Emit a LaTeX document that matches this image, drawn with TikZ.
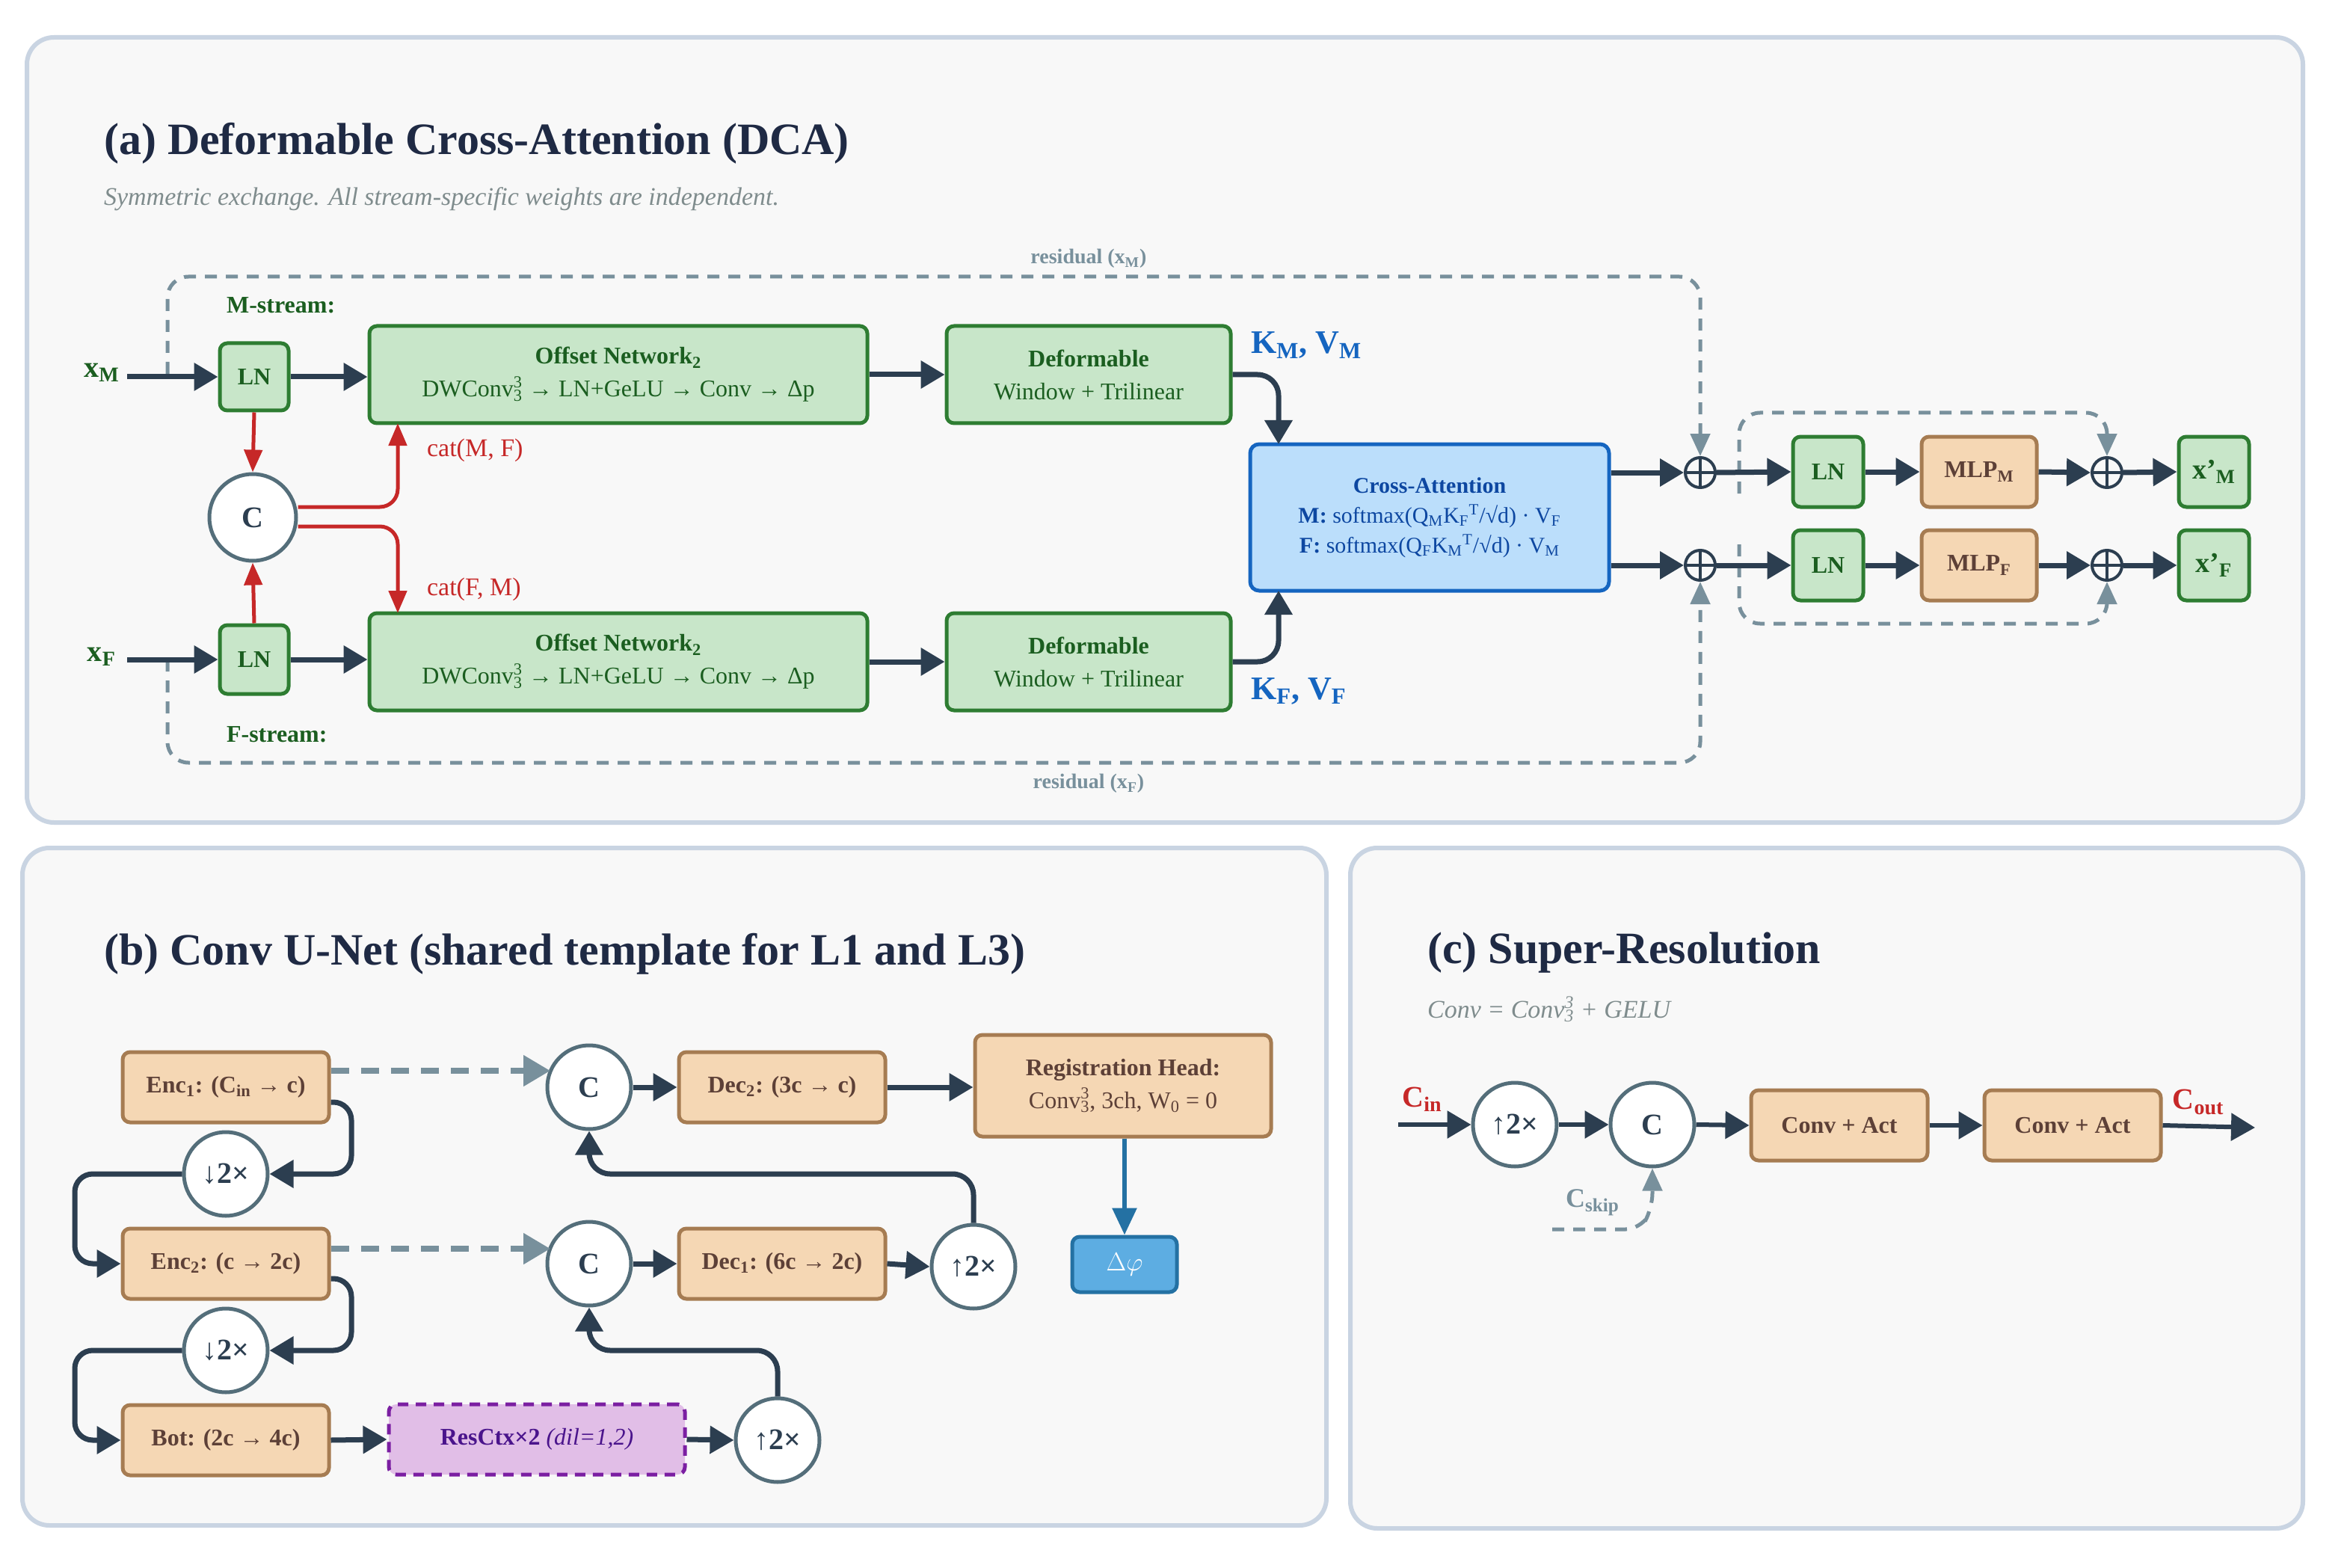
\documentclass[tikz,border=0pt]{standalone}
\usepackage{fontspec}
\setmainfont{Liberation Serif}
\usetikzlibrary{arrows.meta,calc}
\definecolor{panelfill}{HTML}{F8F8F8}
\definecolor{paneldraw}{HTML}{C9D4E2}
\definecolor{navy}{HTML}{1F2A44}
\definecolor{subgray}{HTML}{7F8C8D}
\definecolor{gfill}{HTML}{C8E6C9}
\definecolor{gdraw}{HTML}{2E7D32}
\definecolor{gdark}{HTML}{1B5E20}
\definecolor{ofill}{HTML}{F5D7B4}
\definecolor{odraw}{HTML}{A67C52}
\definecolor{otext}{HTML}{5D4037}
\definecolor{bfill}{HTML}{BBDEFB}
\definecolor{bdraw}{HTML}{1565C0}
\definecolor{btext}{HTML}{0D47A1}
\definecolor{dark}{HTML}{2C3E50}
\definecolor{redc}{HTML}{C62828}
\definecolor{dgray}{HTML}{78909C}
\definecolor{cdraw}{HTML}{546E7A}
\definecolor{pfill}{HTML}{E1BEE7}
\definecolor{pdraw}{HTML}{7B1FA2}
\definecolor{ptext}{HTML}{4A148C}
\definecolor{phifill}{HTML}{5DADE2}
\definecolor{phidraw}{HTML}{2471A3}
\begin{document}
\begin{tikzpicture}[x=1pt,y=-1pt,
  panel/.style={draw=paneldraw,fill=panelfill,line width=3pt,rounded corners=18pt},
  title/.style={anchor=west,text=navy,font=\fontsize{30}{34}\selectfont\bfseries},
  sub/.style={anchor=west,text=subgray,font=\fontsize{17}{20}\selectfont\itshape},
  gbox/.style={draw=gdraw,fill=gfill,line width=2.5pt,rounded corners=5pt,text=gdark,font=\fontsize{16}{20}\selectfont\bfseries,align=center,inner sep=2pt},
  obox/.style={draw=odraw,fill=ofill,line width=2.5pt,rounded corners=5pt,text=otext,font=\fontsize{16}{20}\selectfont\bfseries,align=center,inner sep=2pt},
  circ/.style={circle,draw=cdraw,fill=white,line width=2.5pt,minimum size=56pt,inner sep=0pt,text=dark,font=\fontsize{20}{22}\selectfont\bfseries},
  oplus/.style={circle,draw=dark,line width=2pt,minimum size=20pt,inner sep=0pt,
     path picture={\draw[dark,line width=2pt] (path picture bounding box.north)--(path picture bounding box.south) (path picture bounding box.west)--(path picture bounding box.east);}},
  arr/.style={draw=dark,line width=3.5pt,-{Triangle[width=18pt,length=16pt]}},
  rarr/.style={draw=redc,line width=2.5pt,-{Triangle[width=12pt,length=15pt]}},
  darr/.style={draw=dgray,line width=2.5pt,dash pattern=on 8pt off 6pt,-{Triangle[width=13pt,length=15pt]}},
  gl/.style={text=gdark,font=\fontsize{16}{20}\selectfont\bfseries},
  rl/.style={text=redc,font=\fontsize{17}{20}\selectfont,anchor=west},
  kv/.style={text=bdraw,font=\fontsize{22}{24}\selectfont\bfseries,anchor=west},
  resl/.style={text=dgray,font=\fontsize{14}{16}\selectfont\bfseries},
]
\useasboundingbox (0,0) rectangle (1569.5,1048.5);
\fill[white] (0,0) rectangle (1569.5,1048.5);
% panels
\draw[panel] (18,25) rectangle (1540,550);
\draw[panel] (15,567) rectangle (887,1020);
\draw[panel] (903,567) rectangle (1540,1022);

% ===== panel a =====
\node[title] (ta) at (66,96) {(a) Deformable Cross-Attention (DCA)};
\node[sub] (sa) at (66,133) {Symmetric exchange. All stream-specific weights are independent.};

\node[gbox,minimum width=46pt,minimum height=45pt] (lnm) at (170,252) {LN};
\node[gbox,minimum width=46pt,minimum height=46pt] (lnf) at (170,441) {LN};
\node[gbox,minimum width=333pt,minimum height=65pt] (offm) at (413.5,250.5) {Offset Network\textsubscript{2}\\[2pt]\mdseries DWConv\rlap{\textsuperscript{3}}\textsubscript{3} → LN+GeLU → Conv → Δp};
\node[gbox,minimum width=333pt,minimum height=65pt] (offf) at (413.5,442.5) {Offset Network\textsubscript{2}\\[2pt]\mdseries DWConv\rlap{\textsuperscript{3}}\textsubscript{3} → LN+GeLU → Conv → Δp};
\node[gbox,minimum width=190pt,minimum height=65pt] (dm) at (728,250.5) {Deformable\\[2pt]\mdseries Window + Trilinear};
\node[gbox,minimum width=190pt,minimum height=65pt] (df) at (728,442.5) {Deformable\\[2pt]\mdseries Window + Trilinear};
\node[circ,minimum size=58pt] (cc) at (169,346) {C};
\node[draw=bdraw,fill=bfill,line width=2.5pt,rounded corners=6pt,minimum width=240pt,minimum height=98pt,align=center,text=btext,font=\fontsize{15}{20}\selectfont] (ca) at (956,346)
 {\textbf{Cross-Attention}\\ \textbf{M:} softmax(Q\textsubscript{M}K\textsubscript{F}\textsuperscript{T}/√d) · V\textsubscript{F}\\ \textbf{F:} softmax(Q\textsubscript{F}K\textsubscript{M}\textsuperscript{T}/√d) · V\textsubscript{M}};

\node[gl,font=\fontsize{20}{22}\selectfont\bfseries] (xm) at (68,249) {x\textsubscript{M}};
\node[gl,font=\fontsize{20}{22}\selectfont\bfseries] (xf) at (68,439) {x\textsubscript{F}};
\coordinate (xms) at (85,252);
\coordinate (xfs) at (85,441);
\node[gl,anchor=west] (ms) at (148,204) {M-stream:};
\node[gl,anchor=west] (fs) at (148,491) {F-stream:};
\node[kv] (kvm) at (833,231) {K\textsubscript{M}, V\textsubscript{M}};
\node[kv] (kvf) at (833,462) {K\textsubscript{F}, V\textsubscript{F}};
\node[resl] (rm) at (728,173) {residual (x\textsubscript{M})};
\node[resl] (rf) at (728,524) {residual (x\textsubscript{F})};
\node[rl] (l1) at (282,301) {cat(M, F)};
\node[rl] (l2) at (282,394) {cat(F, M)};

\node[oplus] (pm) at (1137,316) {};
\node[oplus] (pf) at (1137,378) {};
\node[gbox,minimum width=47pt,minimum height=47pt] (ln2m) at (1222.5,315.5) {LN};
\node[gbox,minimum width=47pt,minimum height=47pt] (ln2f) at (1222.5,378) {LN};
\node[obox,minimum width=77pt,minimum height=47pt] (mlpm) at (1323.5,315.5) {MLP\textsubscript{M}};
\node[obox,minimum width=77pt,minimum height=47pt] (mlpf) at (1323.5,378) {MLP\textsubscript{F}};
\node[oplus] (qm) at (1409,316) {};
\node[oplus] (qf) at (1409,378) {};
\node[gbox,minimum width=47pt,minimum height=47pt,font=\fontsize{19}{20}\selectfont\bfseries] (ym) at (1480.5,315.5) {x’\textsubscript{M}};
\node[gbox,minimum width=47pt,minimum height=47pt,font=\fontsize{19}{20}\selectfont\bfseries] (yf) at (1480.5,378) {x’\textsubscript{F}};

% residual loops
\draw[darr,rounded corners=14pt] (112,250) -- (112,185) -- (1137,185) -- (pm.north);
\draw[darr,rounded corners=14pt] (112,441) -- (112,510) -- (1137,510) -- (pf.south);
\draw[darr,rounded corners=14pt] (1163,330) -- (1163,276) -- (1409,276) -- (qm.north);
\draw[darr,rounded corners=14pt] (1163,364) -- (1163,417) -- (1409,417) -- (qf.south);

% main arrows
\draw[arr] (xms) -- (lnm.west);
\draw[arr] (xfs) -- (lnf.west);
\draw[arr] (lnm.east) -- (offm.west |- lnm.east);
\draw[arr] (lnf.east) -- (offf.west |- lnf.east);
\draw[arr] (offm.east) -- (dm.west);
\draw[arr] (offf.east) -- (df.west);
\draw[arr,rounded corners=14pt] (dm.east) -- (855,250.5) -- (855,297);
\draw[arr,rounded corners=14pt] (df.east) -- (855,442.5) -- (855,395);
\draw[arr] (ca.east |- pm) -- (pm.west);
\draw[arr] (ca.east |- pf) -- (pf.west);
\draw[arr] (pm.east) -- (ln2m.west);
\draw[arr] (pf.east) -- (ln2f.west);
\draw[arr] (ln2m.east) -- (mlpm.west);
\draw[arr] (ln2f.east) -- (mlpf.west);
\draw[arr] (mlpm.east) -- (qm.west);
\draw[arr] (mlpf.east) -- (qf.west);
\draw[arr] (qm.east) -- (ym.west);
\draw[arr] (qf.east) -- (yf.west);
% red
\draw[rarr] (lnm.south) -- (cc.north);
\draw[rarr] (lnf.north) -- (cc.south);
\draw[rarr,rounded corners=12pt] ($(cc.east)+(0,-7)$) -- (266,339) -- (266,283);
\draw[rarr,rounded corners=12pt] ($(cc.east)+(0,6)$) -- (266,352) -- (266,410);

% ===== panel b =====
\node[title] (tb) at (66,638) {(b) Conv U-Net (shared template for L1 and L3)};
\node[obox,minimum width=138pt,minimum height=47pt] (e1) at (151,727) {Enc\textsubscript{1}: (C\textsubscript{in} → c)};
\node[obox,minimum width=138pt,minimum height=47pt] (e2) at (151,845) {Enc\textsubscript{2}: (c → 2c)};
\node[obox,minimum width=138pt,minimum height=47pt] (bot) at (151,963) {Bot: (2c → 4c)};
\node[circ] (d1) at (151,785) {↓2×};
\node[circ] (d2) at (151,903) {↓2×};
\node[circ] (c1) at (394,727) {C};
\node[circ] (c2) at (394,845) {C};
\node[obox,minimum width=138pt,minimum height=47pt] (dec2) at (523,727) {Dec\textsubscript{2}: (3c → c)};
\node[obox,minimum width=138pt,minimum height=47pt] (dec1) at (523,845) {Dec\textsubscript{1}: (6c → 2c)};
\node[obox,minimum width=198pt,minimum height=68pt] (reg) at (751,726) {Registration Head:\\[2pt]\mdseries Conv\rlap{\textsuperscript{3}}\textsubscript{3}, 3ch, W\textsubscript{0} = 0};
\node[draw=phidraw,fill=phifill,line width=2.5pt,rounded corners=5pt,minimum width=70pt,minimum height=37pt,text=white,font=\fontsize{18}{20}\selectfont] (phi) at (752,845.5) {$\Delta\varphi$};
\node[circ] (u1) at (651,847) {↑2×};
\node[circ] (u2) at (520,963) {↑2×};
\node[draw=pdraw,fill=pfill,line width=2.5pt,dash pattern=on 7pt off 5pt,rounded corners=5pt,minimum width=198pt,minimum height=47pt,text=ptext,font=\fontsize{16}{20}\selectfont] (res) at (359,962.5) {\textbf{ResCtx×2} \textit{(dil=1,2)}};

\draw[arr,rounded corners=12pt] ($(e1.east)+(0,10)$) -- (235,737) -- (235,785) -- (d1.east);
\draw[arr,rounded corners=12pt] (d1.west) -- (50,785) -- (50,845) -- (e2.west);
\draw[arr,rounded corners=12pt] ($(e2.east)+(0,10)$) -- (235,855) -- (235,903) -- (d2.east);
\draw[arr,rounded corners=12pt] (d2.west) -- (50,903) -- (50,963) -- (bot.west);
\draw[darr,line width=4pt,dash pattern=on 12pt off 8pt,-{Triangle[width=20pt,length=18pt]}] ($(e1.east)+(0,-11)$) -- (368,716);
\draw[darr,line width=4pt,dash pattern=on 12pt off 8pt,-{Triangle[width=20pt,length=18pt]}] ($(e2.east)+(0,-10)$) -- (368,835);
\draw[arr] (c1.east) -- (dec2.west);
\draw[arr] (c2.east) -- (dec1.west);
\draw[arr] (dec2.east) -- (reg.west |- dec2.east);
\draw[arr] (dec1.east) -- (u1.west);
\draw[arr] (bot.east) -- (res.west);
\draw[arr] (res.east) -- (u2.west);
\draw[arr,rounded corners=14pt] (u1.north) -- (651,785) -- (394,785) -- (c1.south);
\draw[arr,rounded corners=14pt] (u2.north) -- (520,903) -- (394,903) -- (c2.south);
\draw[draw=phidraw,line width=3pt,-{Triangle[width=16pt,length=18pt]}] (reg.south -| phi) -- (phi.north);

% ===== panel c =====
\node[title] (tc) at (951,637) {(c) Super-Resolution};
\node[sub] (sc) at (951,675) {Conv = Conv\rlap{\textsuperscript{3}}\textsubscript{3} + GELU};
\node[circ] (su) at (1013,752) {↑2×};
\node[circ] (sc2) at (1105,752) {C};
\node[obox,minimum width=118pt,minimum height=47pt] (ca1) at (1230,752.5) {Conv + Act};
\node[obox,minimum width=118pt,minimum height=47pt] (ca2) at (1386,752.5) {Conv + Act};
\node[text=redc,font=\fontsize{20}{22}\selectfont\bfseries] (cin) at (951,735) {C\textsubscript{in}};
\node[text=redc,font=\fontsize{20}{22}\selectfont\bfseries] (cout) at (1470,737) {C\textsubscript{out}};
\node[text=dgray,font=\fontsize{18}{20}\selectfont\bfseries] (cskip) at (1065,804) {C\textsubscript{skip}};
\coordinate (cst) at (935,752);
\coordinate (cen) at (1508,754);
\coordinate (cks) at (1038,822);
\draw[arr,line width=3pt] (cst) -- (su.west);
\draw[arr,line width=3pt] (su.east) -- (sc2.west);
\draw[arr,line width=3pt] (sc2.east) -- (ca1.west);
\draw[arr,line width=3pt] (ca1.east) -- (ca2.west);
\draw[arr,line width=3pt] (ca2.east) -- (cen);
\draw[darr,rounded corners=10pt] (cks) -- (1097,822) -- (1105,808) -- (sc2.south);
\end{tikzpicture}
\end{document}
